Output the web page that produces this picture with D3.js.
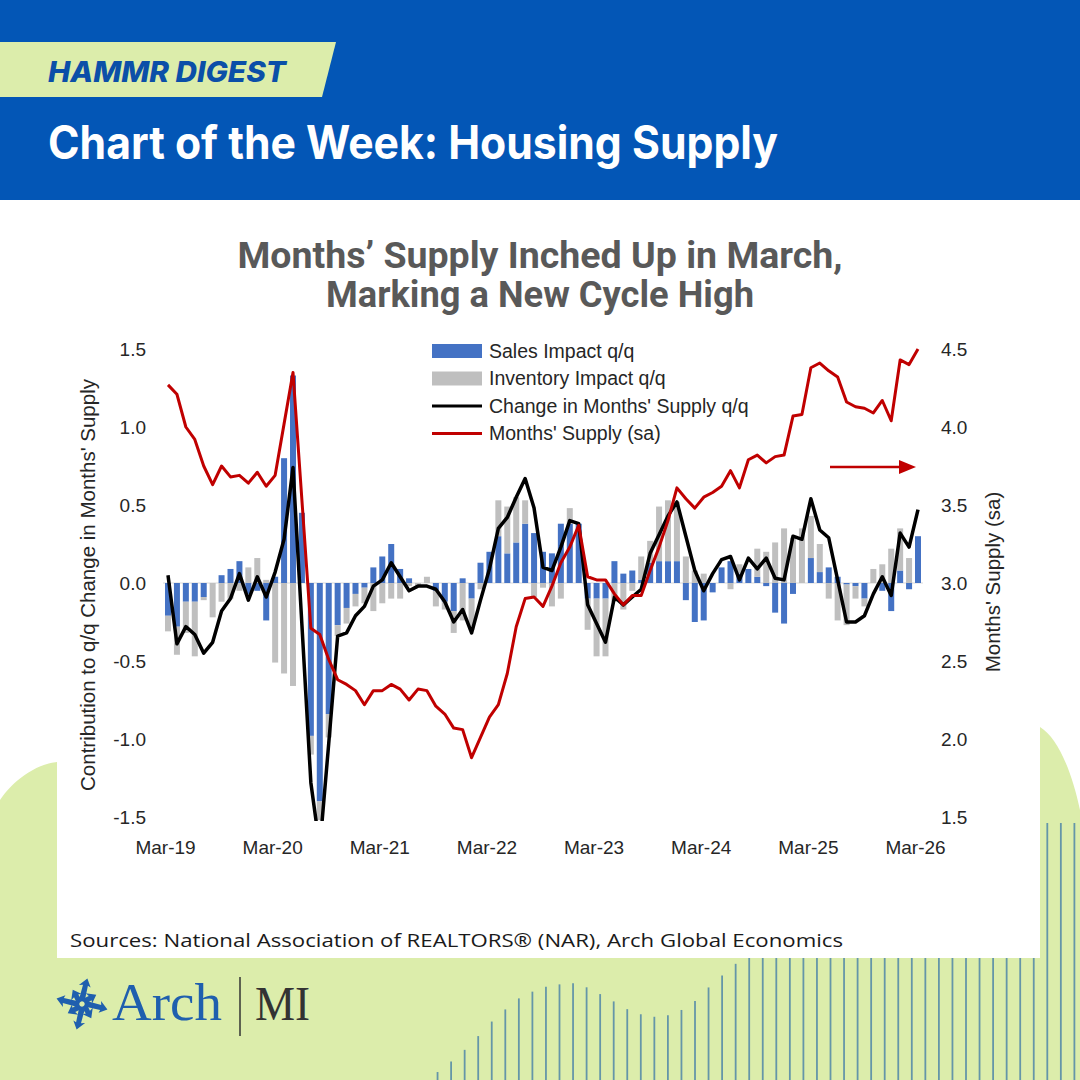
<!DOCTYPE html>
<html>
<head>
<meta charset="utf-8">
<script src="https://cdn.jsdelivr.net/npm/d3@7"></script>
<style>
  html, body { margin: 0; padding: 0; background: #dcedab; }
  svg { display: block; }
</style>
</head>
<body>
<svg id="chart" width="1080" height="1080"></svg>
<script>
// monthly values, Mar-19 .. Mar-26
const salesImpact = [
  -0.21, -0.28, -0.12, -0.12, -0.09, 0.00, 0.05, 0.09, 0.14, -0.07, -0.05, -0.24,
  0.04, 0.80, 1.33, 0.45, -0.98, -1.40, -0.84, -0.27, -0.16, -0.07, -0.03, 0.10,
  0.17, 0.25, 0.09, 0.03, 0.00, 0.00, -0.05, -0.12, -0.18, 0.03, -0.10, 0.13,
  0.20, 0.30, 0.19, 0.26, 0.38, 0.32, 0.20, 0.19, 0.38, 0.38, 0.38, -0.10,
  -0.10, -0.10, 0.14, 0.06, 0.08, 0.02, 0.13, 0.14, 0.14, 0.14, -0.11, -0.25,
  -0.24, -0.06, 0.10, 0.14, 0.06, 0.09, 0.04, -0.02, -0.19, -0.26, -0.07, 0.00,
  0.16, 0.07, 0.10, 0.04, -0.01, -0.02, -0.10, 0.00, -0.05, -0.18, 0.08, -0.04,
  0.30
];
const inventoryImpact = [
  -0.10, -0.18, -0.20, -0.35, -0.02, -0.22, -0.12, -0.10, -0.05, 0.10, 0.16, 0.02,
  -0.51, -0.58, -0.66, 0.00, -0.12, -0.12, -0.15, -0.07, -0.10, -0.08, -0.10, -0.18,
  -0.13, -0.10, -0.10, -0.02, -0.02, 0.04, -0.10, -0.05, -0.14, -0.24, -0.20, -0.04,
  0.00, 0.23, 0.30, 0.29, 0.15, -0.09, -0.03, -0.15, -0.10, 0.10, 0.00, -0.20,
  -0.37, -0.37, -0.12, -0.17, -0.05, 0.15, 0.14, 0.35, 0.39, 0.38, 0.17, 0.08,
  0.06, 0.00, 0.00, -0.04, 0.06, 0.00, 0.18, 0.20, 0.26, 0.35, 0.29, 0.35,
  0.27, 0.18, -0.10, -0.24, -0.26, -0.08, -0.05, 0.09, 0.12, 0.22, 0.27, 0.16,
  0.00
];
const supplyChange = [
  0.05, -0.39, -0.28, -0.33, -0.45, -0.38, -0.18, -0.10, 0.06, -0.11, 0.04, -0.09,
  0.07, 0.28, 0.74, -0.27, -1.28, -1.70, -1.03, -0.34, -0.32, -0.21, -0.15, -0.02,
  0.02, 0.13, 0.04, -0.05, -0.02, -0.02, -0.04, -0.12, -0.25, -0.17, -0.32, -0.11,
  0.09, 0.35, 0.42, 0.55, 0.67, 0.48, 0.10, 0.08, 0.23, 0.40, 0.38, -0.14,
  -0.26, -0.38, -0.09, -0.14, -0.09, -0.04, 0.19, 0.31, 0.43, 0.52, 0.30, 0.08,
  -0.05, 0.06, 0.15, 0.17, 0.02, 0.16, 0.09, 0.16, 0.03, 0.02, 0.30, 0.28,
  0.54, 0.34, 0.29, 0.02, -0.25, -0.25, -0.21, -0.07, 0.04, -0.08, 0.32, 0.23,
  0.47
];
const monthsSupply = [
  4.27, 4.21, 4.00, 3.92, 3.75, 3.63, 3.75, 3.68, 3.69, 3.64, 3.71, 3.62,
  3.69, 4.02, 4.35, 3.53, 2.71, 2.67, 2.51, 2.38, 2.35, 2.31, 2.22, 2.31,
  2.31, 2.35, 2.32, 2.25, 2.32, 2.31, 2.21, 2.16, 2.07, 2.06, 1.88, 2.01,
  2.14, 2.22, 2.42, 2.72, 2.90, 2.91, 2.85, 2.98, 3.13, 3.23, 3.37, 3.04,
  3.02, 3.02, 2.93, 2.86, 2.92, 2.92, 3.08, 3.23, 3.40, 3.61, 3.54, 3.48,
  3.55, 3.58, 3.62, 3.72, 3.61, 3.79, 3.82, 3.77, 3.81, 3.82, 4.07, 4.08,
  4.38, 4.41, 4.36, 4.32, 4.16, 4.13, 4.12, 4.09, 4.17, 4.04, 4.43, 4.40,
  4.50
];
const xTickLabels = ['Mar-19', 'Mar-20', 'Mar-21', 'Mar-22', 'Mar-23', 'Mar-24', 'Mar-25', 'Mar-26'];
const leftTicks = [-1.5, -1.0, -0.5, 0.0, 0.5, 1.0, 1.5];
const rightTicks = [1.5, 2.0, 2.5, 3.0, 3.5, 4.0, 4.5];
const legendItems = [
  { label: 'Sales Impact q/q', type: 'bar', color: '#4472c4' },
  { label: 'Inventory Impact q/q', type: 'bar', color: '#bfbfbf' },
  { label: "Change in Months' Supply q/q", type: 'line', color: '#000000' },
  { label: "Months' Supply (sa)", type: 'line', color: '#c00000' }
];

const months = d3.timeMonth.range(new Date(2019, 2, 1), new Date(2026, 3, 1)).map(d3.timeFormat('%b-%y'));

const svg = d3.select('#chart');
const FONT = "'Liberation Sans', Arial, sans-serif";

// ---- background decoration ----
const bg = svg.append('g');
bg.append('rect').attr('width', 1080).attr('height', 1080).attr('fill', '#dcedab');

// striped "wave" at the bottom
const envelope = d3.scaleLinear()
  .domain([424, 441, 468, 496, 523, 551, 578, 606, 634, 661, 689, 716, 727, 745, 1040, 1045])
  .range([1080, 1070, 1047, 1017, 995, 985, 983, 997, 1013, 1018, 1007, 980, 972, 955, 955, 823])
  .clamp(true);
bg.selectAll('line.stripe')
  .data(d3.range(424, 1080, 13.55))
  .join('line')
  .attr('class', 'stripe')
  .attr('x1', d => d).attr('x2', d => d)
  .attr('y1', d => envelope(d)).attr('y2', 1080)
  .attr('stroke', '#6596a8').attr('stroke-width', 1.8);

// white card
bg.append('rect').attr('x', 0).attr('y', 200).attr('width', 1080).attr('height', 522).attr('fill', '#fff');
bg.append('rect').attr('x', 57).attr('y', 200).attr('width', 983).attr('height', 758).attr('fill', '#fff');
bg.append('path').attr('fill', '#fff')
  .attr('d', 'M0,720 L57,720 L57,762 C35,764 12,782 0,800 Z');
bg.append('path').attr('fill', '#fff')
  .attr('d', 'M1040,720 L1080,720 L1080,810 C1072,772 1058,738 1040,727 Z');

// header
bg.append('rect').attr('width', 1080).attr('height', 200).attr('fill', '#0356b6');
bg.append('path').attr('d', 'M0,42 L336,42 L322,97 L0,97 Z').attr('fill', '#dcedab');
bg.append('text')
  .attr('x', 48).attr('y', 82)
  .attr('font-family', 'Inter, Roboto, sans-serif')
  .attr('font-weight', 800).attr('font-style', 'italic')
  .attr('font-size', 28)
  .attr('textLength', 238).attr('lengthAdjust', 'spacingAndGlyphs')
  .attr('fill', '#0b4fa8')
  .text('HAMMR DIGEST');
bg.append('text')
  .attr('x', 48).attr('y', 159)
  .attr('font-family', 'Inter, Roboto, sans-serif')
  .attr('font-weight', 700)
  .attr('font-size', 46)
  .attr('textLength', 730).attr('lengthAdjust', 'spacingAndGlyphs')
  .attr('fill', '#fff')
  .text('Chart of the Week: Housing Supply');

// chart title
const title = svg.append('text')
  .attr('text-anchor', 'middle')
  .attr('font-family', 'Roboto, Inter, sans-serif')
  .attr('font-weight', 700).attr('font-size', 37)
  .attr('fill', '#595959');
title.append('tspan').attr('x', 540).attr('y', 268)
  .attr('textLength', 605).attr('lengthAdjust', 'spacingAndGlyphs')
  .text('Months’ Supply Inched Up in March,');
title.append('tspan').attr('x', 540).attr('y', 307)
  .attr('textLength', 428).attr('lengthAdjust', 'spacingAndGlyphs')
  .text('Marking a New Cycle High');

// ---- chart ----
const x = d3.scalePoint().domain(months).range([168, 918]);
const yL = d3.scaleLinear().domain([-1.5, 1.5]).range([817, 349]);
const yR = d3.scaleLinear().domain([1.5, 4.5]).range([817, 349]);

svg.append('clipPath').attr('id', 'plot-clip')
  .append('rect').attr('x', 150).attr('y', 335).attr('width', 790).attr('height', 486);

const plot = svg.append('g').attr('clip-path', 'url(#plot-clip)');

const rows = months.map((m, i) => ({ month: m, sales: salesImpact[i], inventory: inventoryImpact[i] }));
const series = d3.stack()
  .keys(['sales', 'inventory'])
  .offset(d3.stackOffsetDiverging)(rows);
const barColor = { sales: '#4472c4', inventory: '#bfbfbf' };
const barW = 6;

plot.append('line')
  .attr('x1', x(months[0]) - 5).attr('x2', x(months[months.length - 1]) + 5)
  .attr('y1', yL(0)).attr('y2', yL(0))
  .attr('stroke', '#d9d9d9').attr('stroke-width', 1);

plot.selectAll('g.series')
  .data(series)
  .join('g')
  .attr('class', 'series')
  .attr('fill', s => barColor[s.key])
  .selectAll('rect')
  .data(s => s)
  .join('rect')
  .attr('x', d => x(d.data.month) - barW / 2)
  .attr('width', barW)
  .attr('y', d => yL(Math.max(d[0], d[1])))
  .attr('height', d => Math.abs(yL(d[0]) - yL(d[1])));

const lineL = d3.line().x((d, i) => x(months[i])).y(d => yL(d));
const lineR = d3.line().x((d, i) => x(months[i])).y(d => yR(d));

plot.append('path')
  .datum(supplyChange)
  .attr('d', lineL)
  .attr('fill', 'none').attr('stroke', '#000').attr('stroke-width', 3.5)
  .attr('stroke-linejoin', 'round');

plot.append('path')
  .datum(monthsSupply)
  .attr('d', lineR)
  .attr('fill', 'none').attr('stroke', '#c00000').attr('stroke-width', 3)
  .attr('stroke-linejoin', 'round');

// axes
const fmt = d => d.toFixed(1);
const axL = svg.append('g')
  .attr('transform', 'translate(146,0)')
  .call(d3.axisLeft(yL).tickValues(leftTicks).tickSize(0).tickPadding(0).tickFormat(fmt));
const axR = svg.append('g')
  .attr('transform', 'translate(941,0)')
  .call(d3.axisRight(yR).tickValues(rightTicks).tickSize(0).tickPadding(0).tickFormat(fmt));
const axB = svg.append('g')
  .attr('transform', 'translate(-3,834)')
  .call(d3.axisBottom(x).tickValues(xTickLabels).tickSize(0).tickPadding(7));

[axL, axR, axB].forEach(ax => {
  ax.select('.domain').remove();
  ax.selectAll('text')
    .attr('font-family', FONT).attr('font-size', 19).attr('fill', '#262626');
});

svg.append('text')
  .attr('transform', 'translate(95,585) rotate(-90)')
  .attr('text-anchor', 'middle')
  .attr('font-family', FONT).attr('font-size', 20.5).attr('fill', '#262626')
  .text("Contribution to q/q Change in Months' Supply");
svg.append('text')
  .attr('transform', 'translate(1000,582) rotate(-90)')
  .attr('text-anchor', 'middle')
  .attr('font-family', FONT).attr('font-size', 20.5).attr('fill', '#262626')
  .text("Months' Supply (sa)");

// legend
const legend = svg.append('g').attr('transform', 'translate(432,351)');
const li = legend.selectAll('g')
  .data(legendItems)
  .join('g')
  .attr('transform', (d, i) => `translate(0,${i * 27.5})`);
li.filter(d => d.type === 'bar').append('rect')
  .attr('x', 0).attr('y', -7).attr('width', 50).attr('height', 14)
  .attr('fill', d => d.color);
li.filter(d => d.type === 'line').append('line')
  .attr('x1', 0).attr('x2', 50).attr('y1', 0).attr('y2', 0)
  .attr('stroke', d => d.color).attr('stroke-width', 3);
li.append('text')
  .attr('x', 57).attr('y', 0).attr('dy', '0.35em')
  .attr('font-family', FONT).attr('font-size', 19.5).attr('fill', '#262626')
  .text(d => d.label);

// arrow pointing to right axis
svg.append('line')
  .attr('x1', 830).attr('x2', 901).attr('y1', 467).attr('y2', 467)
  .attr('stroke', '#c00000').attr('stroke-width', 2.5);
svg.append('path').attr('d', 'M899,460 L916,467 L899,474 Z').attr('fill', '#c00000');

// sources
svg.append('text')
  .attr('x', 70).attr('y', 947)
  .attr('font-family', "'Open Sans', 'Noto Sans', sans-serif")
  .attr('font-size', 19).attr('fill', '#1a1a1a')
  .attr('textLength', 773).attr('lengthAdjust', 'spacingAndGlyphs')
  .text('Sources: National Association of REALTORS® (NAR), Arch Global Economics');

// Arch MI logo
const logo = svg.append('g');
const star = logo.append('g').attr('transform', 'translate(82,1004)').attr('fill', '#1f5fae');
d3.range(8).forEach(k => {
  const long = k % 2 === 0;
  const r1 = long ? 26 : 17;
  star.append('path')
    .attr('transform', `rotate(${k * 45 + 12})`)
    .attr('d', `M2,-4 L${r1 - 7},-3 L${r1 - 8},-7 L${r1},0 L${r1 - 8},5 L${r1 - 7},2 L3,2 Z`);
});
logo.append('text')
  .attr('x', 112).attr('y', 1020)
  .attr('font-family', "'Liberation Serif', 'DejaVu Serif', serif")
  .attr('font-size', 53).attr('fill', '#1f5fae')
  .attr('textLength', 110).attr('lengthAdjust', 'spacingAndGlyphs')
  .text('Arch');
logo.append('line')
  .attr('x1', 240).attr('x2', 240).attr('y1', 977).attr('y2', 1036)
  .attr('stroke', '#333').attr('stroke-width', 1.5);
logo.append('text')
  .attr('x', 255).attr('y', 1020)
  .attr('font-family', "'Liberation Serif', 'DejaVu Serif', serif")
  .attr('font-size', 48).attr('fill', '#333')
  .attr('textLength', 55).attr('lengthAdjust', 'spacingAndGlyphs')
  .text('MI');
</script>
</body>
</html>
